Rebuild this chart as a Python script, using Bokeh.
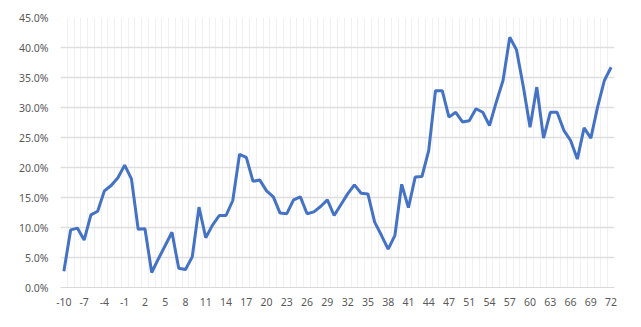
from bokeh.plotting import figure
from bokeh.models import FixedTicker, PrintfTickFormatter, ColumnDataSource, Range1d
from bokeh.embed import file_html
from bokeh.resources import INLINE

categories = [str(c) for c in list(range(-10, 48)) + [48, 50] + list(range(51, 73))]
values = [
    2.7, 9.6, 9.9, 7.9, 12.1, 12.7, 16.1, 17.0, 18.3, 20.4,
    18.1, 9.7, 9.8, 2.5, 4.8, 7.0, 9.2, 3.2, 3.0, 5.1,
    13.4, 8.3, 10.4, 12.0, 12.0, 14.5, 22.2, 21.7, 17.7, 17.9,
    16.1, 15.1, 12.4, 12.3, 14.6, 15.1, 12.3, 12.6, 13.5, 14.6,
    12.0, 13.8, 15.6, 17.1, 15.7, 15.6, 10.9, 8.7, 6.4, 8.7,
    17.2, 13.3, 18.4, 18.5, 22.8, 32.8, 32.8, 28.4, 29.2, 27.6,
    27.8, 29.8, 29.2, 27.0, 30.9, 34.5, 41.7, 39.6, 33.5, 26.7,
    33.4, 24.9, 29.2, 29.2, 26.2, 24.5, 21.4, 26.6, 24.9, 30.1,
    34.5, 36.7,
]
y_ticks = [0, 5, 10, 15, 20, 25, 30, 35, 40, 45]

idx = list(range(len(categories)))
src = ColumnDataSource(dict(x=idx, y=values, cat=categories))

p = figure(width=625, height=311, output_backend="svg", toolbar_location=None,
           x_range=Range1d(-0.5, len(categories) - 0.5), y_range=Range1d(0, 45),
           min_border_left=60, min_border_right=11, min_border_top=17, min_border_bottom=24)
p.outline_line_color = None
p.background_fill_color = "white"
p.border_fill_color = "white"

p.line("x", "y", source=src, line_color="#4472C4", line_width=3)

label_idx = idx[::3]
p.xaxis.ticker = FixedTicker(ticks=label_idx)
p.xaxis.major_label_overrides = {i: categories[i] for i in label_idx}
p.xaxis.axis_line_color = "#d9d9d9"
p.xaxis.major_tick_line_color = None
p.xaxis.minor_tick_line_color = None
p.xaxis.major_label_standoff = 4

p.yaxis.ticker = FixedTicker(ticks=y_ticks)
p.yaxis.formatter = PrintfTickFormatter(format="%.1f%%")
p.yaxis.axis_line_color = None
p.yaxis.major_tick_line_color = None
p.yaxis.minor_tick_line_color = None
p.yaxis.major_label_standoff = 6

for ax in (p.xaxis, p.yaxis):
    ax.major_label_text_font = "Noto Sans"
    ax.major_label_text_font_size = "10.5px"
    ax.major_label_text_color = "#595959"

p.xgrid.ticker = FixedTicker(ticks=[i + 0.5 for i in range(-1, len(categories))])
p.xgrid.grid_line_color = "#f0f0f0"
p.xgrid.grid_line_width = 1
p.ygrid.ticker = FixedTicker(ticks=y_ticks)
p.ygrid.grid_line_color = "#dedede"
p.ygrid.grid_line_width = 1.5

open("out.html", "w").write(file_html(p, INLINE))
